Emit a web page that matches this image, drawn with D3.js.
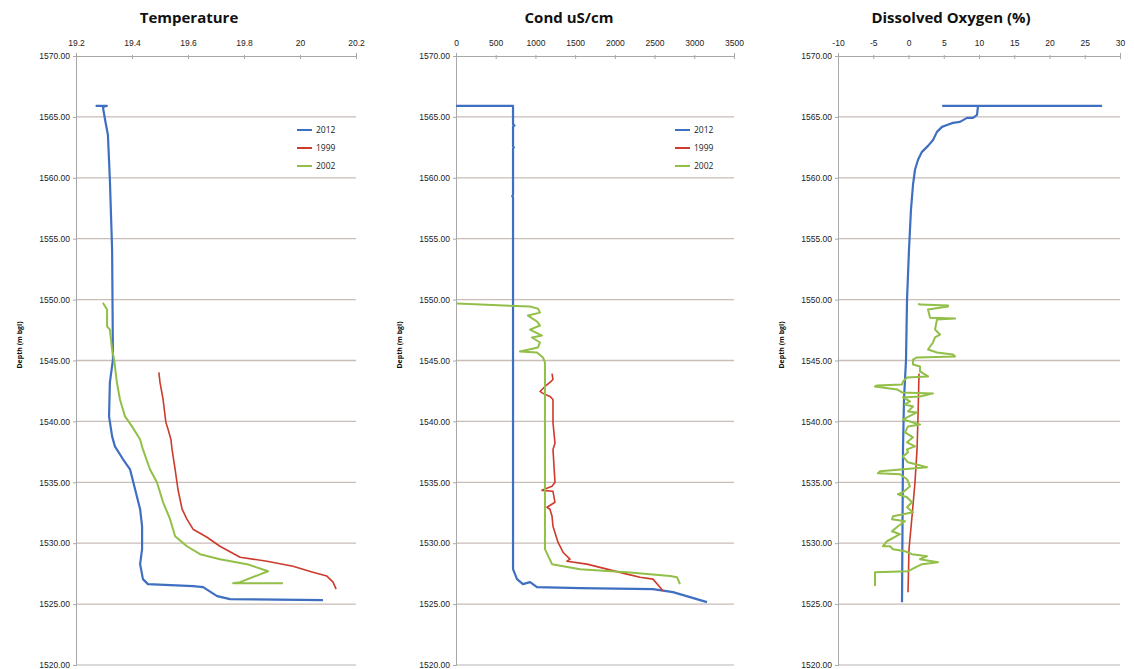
<!DOCTYPE html>
<html>
<head>
<meta charset="utf-8">
<script src="https://cdn.jsdelivr.net/npm/d3@7"></script>
<style>
  body { margin: 0; background: #fff; }
  svg { font-family: "Open Sans", "Liberation Sans", sans-serif; }
</style>
</head>
<body>
<div class="chart"></div>
<script>
// depth ticks shared by all three panels
var depthTicks = [1520, 1525, 1530, 1535, 1540, 1545, 1550, 1555, 1560, 1565, 1570];
var years = ["2012", "1999", "2002"];

// Temperature: [value, depth]
var temp2012 = [[19.27,1565.9],[19.31,1565.9],[19.296,1565.82],[19.304,1564.75],[19.314,1563.52],[19.321,1559.84],
  [19.329,1554.1],[19.332,1545.08],[19.321,1543.2],[19.318,1540.41],[19.329,1538.77],[19.339,1537.95],
  [19.368,1536.89],[19.393,1536.07],[19.411,1534.43],[19.429,1532.79],[19.436,1531.39],[19.436,1529.51],
  [19.429,1528.28],[19.439,1527.05],[19.457,1526.64],[19.618,1526.48],[19.654,1526.39],[19.704,1525.66],
  [19.75,1525.41],[20.082,1525.33]];
var temp1999 = [[19.496,1544.02],[19.5,1543.2],[19.511,1541.8],[19.521,1539.92],[19.529,1539.34],[19.539,1538.52],
  [19.543,1537.7],[19.554,1536.07],[19.564,1534.43],[19.579,1532.79],[19.596,1531.97],[19.618,1531.15],
  [19.668,1530.49],[19.714,1529.75],[19.786,1528.85],[19.882,1528.52],[19.975,1528.11],[20.046,1527.62],
  [20.096,1527.3],[20.118,1526.8],[20.129,1526.23]];
var temp2002 = [[19.296,1549.75],[19.311,1549.18],[19.311,1547.79],[19.321,1547.54],[19.329,1545.9],[19.336,1545.08],
  [19.346,1543.2],[19.357,1541.8],[19.375,1540.41],[19.4,1539.59],[19.429,1538.52],[19.439,1537.7],
  [19.464,1536.07],[19.489,1535.0],[19.511,1533.36],[19.536,1531.97],[19.554,1530.57],[19.596,1529.75],
  [19.643,1529.1],[19.714,1528.69],[19.811,1528.28],[19.886,1527.7],[19.786,1526.8],[19.761,1526.72],
  [19.939,1526.72]];

// Conductivity
var cond2012 = [[0,1565.9],[718,1565.9],[718,1564.4],[735,1564.3],[718,1564.2],[718,1562.6],[728,1562.5],[718,1562.4],
  [718,1558.6],[708,1558.5],[718,1558.4],[718,1527.87],[768,1527.05],[843,1526.64],[932,1526.8],[1020,1526.39],
  [1561,1526.31],[2480,1526.23],[2732,1525.98],[3160,1525.16]];
var cond1999 = [[1209,1543.93],[1221,1543.44],[1183,1543.2],[1120,1542.87],[1058,1542.46],[1095,1542.3],
  [1183,1542.05],[1221,1541.8],[1221,1539.9],[1246,1538.2],[1221,1537.7],[1246,1535.0],[1209,1534.67],
  [1083,1534.34],[1221,1534.26],[1246,1533.36],[1146,1532.95],[1183,1532.79],[1209,1532.21],[1221,1531.39],
  [1284,1530.08],[1347,1529.26],[1435,1528.69],[1397,1528.52],[1649,1528.28],[1901,1527.87],[2153,1527.46],
  [2317,1527.21],[2480,1527.05],[2568,1526.39],[2606,1526.07]];
var cond2002 = [[13,1549.67],[932,1549.43],[1032,1549.26],[1058,1548.93],[906,1548.69],[1020,1548.2],[1058,1547.87],
  [932,1547.54],[1083,1547.05],[957,1546.89],[1058,1546.48],[1032,1546.07],[806,1545.74],[1020,1545.66],
  [1095,1545.25],[1120,1544.84],[1120,1529.51],[1209,1528.28],[1561,1527.87],[2153,1527.62],[2694,1527.3],
  [2782,1527.21],[2820,1526.64]];

// Dissolved oxygen
var do2012 = [[27.45,1565.9],[4.9,1565.9],[9.86,1565.9],[9.72,1565.16],[9.15,1564.92],[8.3,1564.92],[7.3,1564.59],
  [6.3,1564.51],[5.46,1564.34],[4.75,1564.18],[4.04,1563.77],[3.48,1563.11],[2.77,1562.62],[1.91,1562.13],
  [1.35,1561.48],[0.92,1560.66],[0.64,1559.43],[0.35,1557.38],[0.07,1554.1],[-0.21,1550.0],[-0.35,1545.08],
  [-0.64,1541.8],[-0.78,1537.7],[-0.92,1525.16]];
var do1999 = [[1.49,1543.93],[1.35,1540.41],[1.21,1537.7],[0.92,1535.0],[0.5,1532.21],[0.07,1529.51],[-0.07,1525.98]];
var do2002 = [[1.35,1549.67],[1.63,1549.59],[5.6,1549.51],[5.6,1549.43],[2.77,1549.18],[3.05,1548.52],[6.6,1548.44],
  [4.04,1548.36],[3.76,1547.54],[4.47,1547.13],[3.76,1546.89],[3.48,1546.48],[2.77,1545.9],[4.04,1545.66],
  [6.31,1545.49],[6.6,1545.33],[1.21,1545.25],[0.64,1545.08],[0.64,1544.67],[1.63,1544.51],[1.63,1544.1],
  [2.77,1543.69],[-0.21,1543.61],[-0.78,1543.28],[-0.92,1543.03],[-4.47,1542.95],[-4.75,1542.87],[-1.63,1542.62],
  [-0.92,1542.38],[3.48,1542.3],[1.63,1542.05],[-0.78,1541.97],[0.21,1541.64],[-0.5,1541.39],[0.64,1541.23],
  [-0.07,1540.82],[1.21,1540.74],[-0.78,1540.16],[1.63,1539.75],[-0.07,1539.59],[-0.5,1539.1],[0.64,1538.69],
  [-0.21,1538.28],[0.92,1537.95],[-0.21,1537.7],[-0.07,1537.46],[-0.78,1537.13],[-0.07,1536.64],[2.62,1536.23],
  [-4.04,1535.9],[-4.33,1535.74],[-1.21,1535.66],[-0.21,1535.25],[0.21,1534.67],[-0.78,1534.18],[-1.49,1534.02],
  [-0.21,1533.77],[0.5,1533.36],[-0.21,1532.95],[0.64,1532.54],[-2.2,1532.21],[-2.34,1531.97],[-0.5,1531.8],
  [-1.49,1531.39],[-2.34,1530.98],[-1.21,1530.74],[-3.05,1530.16],[-3.62,1529.75],[-2.62,1529.75],[-2.2,1529.51],
  [-0.5,1529.34],[0.5,1529.1],[2.62,1528.93],[1.63,1528.69],[4.18,1528.44],[1.91,1528.28],[-0.07,1527.7],
  [-4.75,1527.62],[-4.75,1526.48]];

var colors = {"2012": "#3f6fc0", "1999": "#cc3b2c", "2002": "#92bf48"};
var widths = {"2012": 2.2, "1999": 1.6, "2002": 2};

var svg = d3.select('div.chart').append('svg')
    .attr('width', 1134)
    .attr('height', 669);

var yScale = d3.scaleLinear().domain([1520, 1570]).range([665, 56]);

function drawPanel(p) {
  var g = svg.append('g');
  var xScale = d3.scaleLinear().domain(p.domain).range([p.left, p.right]);

  // horizontal gridlines
  g.selectAll('line.grid')
    .data(depthTicks.slice(1, -1))
    .enter().append('line')
    .attr('x1', p.left).attr('x2', p.right)
    .attr('y1', d => yScale(d)).attr('y2', d => yScale(d))
    .attr('stroke', '#c9bdb8')
    .attr('stroke-width', 1.3);

  // bottom line
  g.append('line')
    .attr('x1', p.left).attr('x2', p.right)
    .attr('y1', yScale(1520)).attr('y2', yScale(1520))
    .attr('stroke', '#b5b5b5');

  var xAxis = d3.axisTop(xScale)
      .tickValues(p.ticks)
      .tickSize(3)
      .tickFormat(d => String(+d.toFixed(1)));
  var xg = g.append('g')
      .attr('transform', 'translate(0,' + yScale(1570) + ')')
      .call(xAxis);
  xg.select('.domain').attr('stroke', '#a8a8a8');
  xg.selectAll('.tick line').attr('stroke', '#a8a8a8').attr('y2', 3).attr('y1', -1);
  xg.selectAll('text').attr('font-size', 8.5).attr('fill', '#222').attr('dy', '-0.5em');

  var yAxis = d3.axisLeft(yScale)
      .tickValues(depthTicks)
      .tickSize(3)
      .tickFormat(d3.format('.2f'));
  var yg = g.append('g')
      .attr('transform', 'translate(' + p.left + ',0)')
      .call(yAxis);
  yg.select('.domain').attr('stroke', '#a8a8a8');
  yg.selectAll('.tick line').attr('stroke', '#a8a8a8');
  yg.selectAll('text').attr('font-size', 8.5).attr('fill', '#222').attr('x', -6);

  // title
  g.append('text')
    .attr('x', p.left + 113).attr('y', 23)
    .attr('text-anchor', 'middle')
    .attr('font-size', 15)
    .attr('font-weight', 'bold')
    .attr('fill', '#111')
    .text(p.title);

  // y axis label
  g.append('text')
    .attr('transform', 'translate(' + (p.left - 54) + ',345) rotate(-90)')
    .attr('text-anchor', 'middle')
    .attr('font-size', 7)
    .attr('font-weight', 'bold')
    .attr('fill', '#111')
    .text('Depth (m bgl)');

  var line = d3.line()
      .x(d => xScale(d[0]))
      .y(d => yScale(d[1]));

  years.forEach(function (yr) {
    g.append('path')
      .attr('d', line(p.series[yr]))
      .attr('fill', 'none')
      .attr('stroke', colors[yr])
      .attr('stroke-width', widths[yr])
      .attr('stroke-linejoin', 'round');
  });

  if (p.legend) {
    var lg = g.selectAll('g.legend')
        .data(years)
        .enter().append('g')
        .attr('transform', (d, i) => 'translate(' + (p.right - 59) + ',' + (130 + i * 18) + ')');
    lg.append('line')
      .attr('x1', 0).attr('x2', 15)
      .attr('stroke', d => colors[d])
      .attr('stroke-width', 2);
    lg.append('text')
      .attr('x', 19).attr('y', 3)
      .attr('font-size', 8.5)
      .attr('fill', '#222')
      .text(d => d);
  }
}

drawPanel({
  title: 'Temperature', left: 76, right: 356, domain: [19.2, 20.2],
  ticks: [19.2, 19.4, 19.6, 19.8, 20, 20.2], legend: true,
  series: {"2012": temp2012, "1999": temp1999, "2002": temp2002}
});
drawPanel({
  title: 'Cond uS/cm', left: 456, right: 734, domain: [0, 3500],
  ticks: [0, 500, 1000, 1500, 2000, 2500, 3000, 3500], legend: true,
  series: {"2012": cond2012, "1999": cond1999, "2002": cond2002}
});
drawPanel({
  title: 'Dissolved Oxygen (%)', left: 838, right: 1120, domain: [-10, 30],
  ticks: [-10, -5, 0, 5, 10, 15, 20, 25, 30], legend: false,
  series: {"2012": do2012, "1999": do1999, "2002": do2002}
});
</script>
</body>
</html>
